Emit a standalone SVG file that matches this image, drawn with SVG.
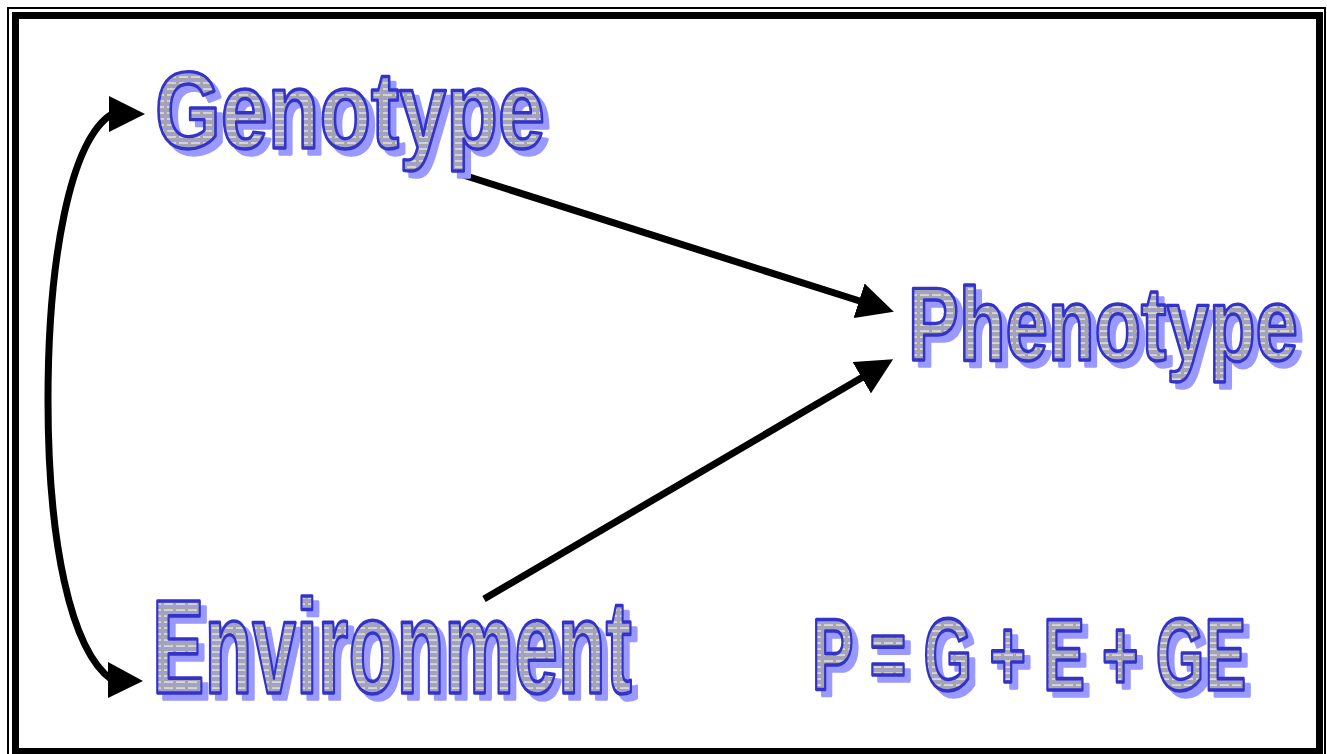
<svg xmlns="http://www.w3.org/2000/svg" width="1327" height="754" viewBox="0 0 1327 754">
<style>
.wa{font-family:"Liberation Sans",Arial,sans-serif;font-weight:bold;stroke-linejoin:round}
.sh{fill:#9999ff;stroke:#9999ff;stroke-width:3}
.fg{stroke:#3333cc;stroke-width:3}
.conn{fill:none;stroke:#000;stroke-width:7}
.head{fill:#000}
</style>
<defs>
<pattern id="stripes" patternUnits="userSpaceOnUse" width="12" height="6">
<rect width="12" height="6" fill="#a6a6a6"/>
<line x1="0" y1="1" x2="9" y2="1" stroke="#ffffff" stroke-width="1"/>
<line x1="0" y1="4" x2="12" y2="4" stroke="#9999ff" stroke-width="1"/>
</pattern>
<pattern id="pg" href="#stripes" patternTransform="scale(1,0.775)"/>
<pattern id="pp" href="#stripes" patternTransform="scale(1,0.73)"/>
<pattern id="pe" href="#stripes" patternTransform="scale(1,0.585)"/>
<pattern id="pq" href="#stripes" patternTransform="scale(1,0.61)"/>
<marker id="ah" viewBox="0 0 10 10" refX="2" refY="5" markerWidth="5.2" markerHeight="5.2" markerUnits="strokeWidth" orient="auto">
<path d="M0,0 L10,5 L0,10 Z" fill="#000"/>
</marker>
</defs>
<rect width="1327" height="754" fill="#fff"/>
<g id="border">
<rect x="8" y="8" width="1317" height="750" fill="none" stroke="#000" stroke-width="2"/>
<rect x="15.5" y="15.5" width="1304" height="736" fill="none" stroke="#000" stroke-width="7"/>
</g>
<g id="connectors">
<path class="conn" d="M112,114 C70,140 48,260 48,400 C48,540 70,650 112,680"/>
<polygon class="head" points="109,96 145,114 109,132"/>
<polygon class="head" points="108,662 143,681 108,698"/>
<path class="conn" d="M460,174 L866,303" marker-end="url(#ah)"/>
<path class="conn" d="M484,599 L868,374" marker-end="url(#ah)"/>
</g>
<g id="genotype" class="wa">
<text class="sh" transform="translate(161,154) scale(1,1.29)" vector-effect="non-scaling-stroke" x="0" y="0" font-size="84.5" textLength="390" lengthAdjust="spacingAndGlyphs">Genotype</text>
<text class="fg" fill="url(#pg)" transform="translate(155,148) scale(1,1.29)" vector-effect="non-scaling-stroke" x="0" y="0" font-size="84.5" textLength="390" lengthAdjust="spacingAndGlyphs">Genotype</text>
</g>
<g id="phenotype" class="wa">
<text class="sh" transform="translate(914,366) scale(1,1.37)" vector-effect="non-scaling-stroke" x="0" y="0" font-size="76" textLength="390" lengthAdjust="spacingAndGlyphs">Phenotype</text>
<text class="fg" fill="url(#pp)" transform="translate(908,360) scale(1,1.37)" vector-effect="non-scaling-stroke" x="0" y="0" font-size="76" textLength="390" lengthAdjust="spacingAndGlyphs">Phenotype</text>
</g>
<g id="environment" class="wa">
<text class="sh" transform="translate(158,699) scale(1,1.71)" vector-effect="non-scaling-stroke" x="0" y="0" font-size="78.5" textLength="480" lengthAdjust="spacingAndGlyphs">Environment</text>
<text class="fg" fill="url(#pe)" transform="translate(152,693) scale(1,1.71)" vector-effect="non-scaling-stroke" x="0" y="0" font-size="78.5" textLength="480" lengthAdjust="spacingAndGlyphs">Environment</text>
</g>
<g id="equation" class="wa">
<text class="sh" transform="translate(818,696) scale(1,1.64)" vector-effect="non-scaling-stroke" x="0" y="0" font-size="62" textLength="434" lengthAdjust="spacingAndGlyphs">P = G + E + GE</text>
<text class="fg" fill="url(#pq)" transform="translate(812,690) scale(1,1.64)" vector-effect="non-scaling-stroke" x="0" y="0" font-size="62" textLength="434" lengthAdjust="spacingAndGlyphs">P = G + E + GE</text>
</g>
</svg>
